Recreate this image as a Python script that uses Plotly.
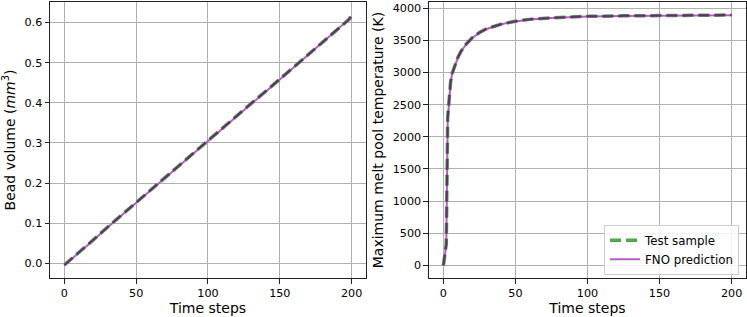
import plotly.graph_objects as go

# bead volume vs time step
vol_t = [0, 2, 5, 10, 20, 30, 40, 50, 60, 70, 80, 90, 100, 110, 120, 130, 140,
         150, 160, 170, 180, 190, 195, 198, 200]
vol_test = [-0.004, 0.002, 0.012, 0.028, 0.058, 0.090, 0.121, 0.152, 0.183, 0.213,
            0.244, 0.275, 0.306, 0.336, 0.367, 0.398, 0.428, 0.459, 0.490, 0.521,
            0.553, 0.584, 0.600, 0.607, 0.617]
vol_pred = [-0.005, 0.001, 0.011, 0.027, 0.057, 0.089, 0.120, 0.151, 0.182, 0.212,
            0.243, 0.274, 0.305, 0.335, 0.366, 0.397, 0.427, 0.458, 0.489, 0.520,
            0.552, 0.583, 0.598, 0.605, 0.614]

# max melt pool temperature vs time step
temp_t = [0, 1, 2, 3, 4, 5, 6, 8, 10, 12, 15, 20, 25, 30, 40, 50, 60, 75, 100,
          125, 150, 175, 200]
temp_test = [0, 180, 330, 2300, 2650, 2850, 2980, 3120, 3230, 3320, 3420, 3540,
             3620, 3680, 3750, 3795, 3825, 3850, 3872, 3880, 3885, 3888, 3892]
temp_pred = [0, 170, 310, 2250, 2630, 2840, 2970, 3110, 3225, 3315, 3415, 3535,
             3615, 3675, 3748, 3792, 3823, 3848, 3870, 3878, 3883, 3886, 3890]

green = '#4ca64a'
purple = '#b25dbf'
dark = '#5a3560'
font = 'DejaVu Sans'
fs_tick = 11.2
fs_label = 11.8

fig = go.Figure()

def add_pair(t, test, pred, xa, ya, legend):
    fig.add_trace(go.Scatter(x=t, y=test, xaxis=xa, yaxis=ya, mode='lines',
                             name='Test sample', showlegend=legend,
                             line=dict(color=green, width=3.5, dash='11px,5px')))
    fig.add_trace(go.Scatter(x=t, y=pred, xaxis=xa, yaxis=ya, mode='lines',
                             name='FNO prediction', showlegend=legend,
                             line=dict(color=purple, width=2)))
    # overlap of the two lines shows darker
    fig.add_trace(go.Scatter(x=t, y=test, xaxis=xa, yaxis=ya, mode='lines',
                             showlegend=False, hoverinfo='skip',
                             line=dict(color=dark, width=2, dash='11px,5px')))

add_pair(vol_t, vol_test, vol_pred, 'x', 'y', False)
add_pair(temp_t, temp_test, temp_pred, 'x2', 'y2', True)

axis_style = dict(showline=True, mirror=True, linecolor='#222222', linewidth=1,
                  showgrid=True, gridcolor='#b0b0b0', gridwidth=0.8,
                  ticks='outside', ticklen=4.5, tickcolor='#222222',
                  zeroline=False, tickfont=dict(family=font, size=fs_tick, color='black'))

fig.update_layout(
    width=747, height=317,
    margin=dict(l=50, r=1, t=2, b=39),
    paper_bgcolor='white', plot_bgcolor='white',
    font=dict(family=font, size=fs_label, color='black'),
    xaxis=dict(domain=[0, 0.454], range=[-10, 210], tickvals=[0, 50, 100, 150, 200],
               title=dict(text='Time steps', standoff=1), anchor='y', **axis_style),
    yaxis=dict(domain=[0, 1], range=[-0.0365, 0.651], tickvals=[0, 0.1, 0.2, 0.3, 0.4, 0.5, 0.6],
               tickformat='.1f', title=dict(text='Bead volume (<i>mm</i><sup>3</sup>)', standoff=5),
               anchor='x', **axis_style),
    xaxis2=dict(domain=[0.5445, 1], range=[-10, 210], tickvals=[0, 50, 100, 150, 200],
                title=dict(text='Time steps', standoff=1), anchor='y2', **axis_style),
    yaxis2=dict(domain=[0, 1], range=[-195, 4095], tickvals=list(range(0, 4001, 500)),
                title=dict(text='Maximum melt pool temperature (K)', standoff=5),
                anchor='x2', **axis_style),
    legend=dict(x=0.99, y=0.012, xanchor='right', yanchor='bottom',
                bgcolor='rgba(255,255,255,0.85)', bordercolor='#cccccc', borderwidth=1,
                font=dict(family=font, size=fs_label, color='black'),
                tracegroupgap=0, itemwidth=30),
)

fig.write_html('out.html', config={'displayModeBar': False},
               post_script="document.body.style.margin='0px';")
